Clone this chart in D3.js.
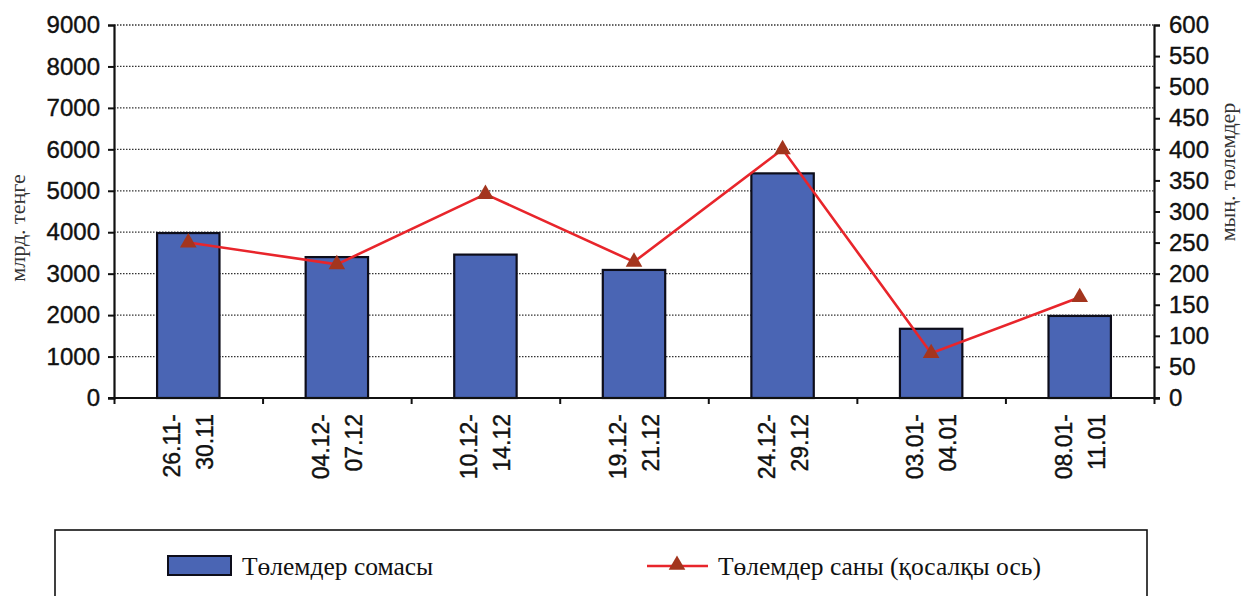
<!DOCTYPE html>
<html>
<head>
<meta charset="utf-8">
<script src="https://cdn.jsdelivr.net/npm/d3@7"></script>
<style>
  html, body { margin: 0; padding: 0; background: #fff; }
  svg { display: block; }
</style>
</head>
<body>
<svg id="chart" width="1248" height="596"></svg>
<script>
// Weekly payment periods
const periods = [["26.11-", "30.11"], ["04.12-", "07.12"], ["10.12-", "14.12"], ["19.12-", "21.12"],
                 ["24.12-", "29.12"], ["03.01-", "04.01"], ["08.01-", "11.01"]];
// Payment volume, bn tenge (left axis)
const paymentSum = [3980, 3400, 3460, 3090, 5420, 1670, 1980];
// Payment count, thousand payments (secondary axis)
const paymentCount = [250, 215, 328, 219, 400, 72, 162];
const leftTicks = [0, 1000, 2000, 3000, 4000, 5000, 6000, 7000, 8000, 9000];
const rightTicks = [0, 50, 100, 150, 200, 250, 300, 350, 400, 450, 500, 550, 600];
const leftTitle = "млрд. теңге";
const rightTitle = "мың. төлемдер";
const legendLabels = ["Төлемдер сомасы", "Төлемдер саны (қосалқы ось)"];

const svg = d3.select("#chart");
const plot = { left: 114, right: 1154, top: 25, bottom: 398 };
const sansFont = "'Liberation Sans', Arial, sans-serif";
const serifFont = "'Liberation Serif', 'Times New Roman', serif";

const x = d3.scaleBand()
  .domain(periods.map((d, i) => i))
  .range([plot.left, plot.right])
  .paddingInner(0.58).paddingOuter(0.29);
const yL = d3.scaleLinear().domain([0, 9000]).range([plot.bottom, plot.top]);
const yR = d3.scaleLinear().domain([0, 600]).range([plot.bottom, plot.top]);

// Dotted gridlines
svg.append("g").selectAll("line")
  .data(leftTicks.filter(d => d > 0))
  .join("line")
  .attr("x1", plot.left).attr("x2", plot.right)
  .attr("y1", d => yL(d)).attr("y2", d => yL(d))
  .attr("stroke", "#333").attr("stroke-width", 1.3)
  .attr("stroke-dasharray", "1.5,1.5");

// Bars
svg.append("g").selectAll("rect")
  .data(paymentSum)
  .join("rect")
  .attr("x", (d, i) => x(i))
  .attr("y", d => yL(d))
  .attr("width", x.bandwidth())
  .attr("height", d => yL(0) - yL(d))
  .attr("fill", "#4A65B4")
  .attr("stroke", "#0d0d1a").attr("stroke-width", 2.2);

// Left axis
const leftAxis = svg.append("g")
  .attr("transform", `translate(${plot.left},0)`)
  .call(d3.axisLeft(yL).tickValues(leftTicks).tickSize(6).tickPadding(8).tickFormat(d3.format("d")));
// Right axis
const rightAxis = svg.append("g")
  .attr("transform", `translate(${plot.right},0)`)
  .call(d3.axisRight(yR).tickValues(rightTicks).tickSize(6).tickPadding(9).tickFormat(d3.format("d")));
// Bottom axis with ticks on category boundaries
const xEdge = d3.scaleLinear().domain([0, periods.length]).range([plot.left, plot.right]);
const bottomAxis = svg.append("g")
  .attr("transform", `translate(0,${plot.bottom})`)
  .call(d3.axisBottom(xEdge).tickValues(d3.range(periods.length + 1)).tickSize(6).tickFormat(""));

[leftAxis, rightAxis, bottomAxis].forEach(g => {
  g.select(".domain").attr("stroke", "#111").attr("stroke-width", 2.2);
  g.selectAll(".tick line").attr("stroke", "#111").attr("stroke-width", 2);
  g.selectAll(".tick text")
    .attr("font-family", sansFont).attr("font-size", 24).attr("fill", "#111")
    .attr("stroke", "#111").attr("stroke-width", 0.4);
});
bottomAxis.select(".domain").attr("d", `M${plot.left - 6},0H${plot.right + 6}`);

// Category labels, rotated, two lines each
const cat = svg.append("g");
periods.forEach((p, i) => {
  const cx = x(i) + x.bandwidth() / 2;
  const t = cat.append("text")
    .attr("transform", `translate(${cx},414) rotate(-90)`)
    .attr("text-anchor", "end")
    .attr("font-family", sansFont).attr("font-size", 23).attr("fill", "#111")
    .attr("stroke", "#111").attr("stroke-width", 0.4);
  t.append("tspan").attr("x", 0).attr("y", -8).text(p[0]);
  t.append("tspan").attr("x", 0).attr("y", 25).text(p[1]);
});

// Payment count line
const line = d3.line()
  .x((d, i) => x(i) + x.bandwidth() / 2)
  .y(d => yR(d));
svg.append("path")
  .datum(paymentCount)
  .attr("d", line)
  .attr("fill", "none")
  .attr("stroke", "#E8252B").attr("stroke-width", 2.6);

const tri = d3.symbol().type(d3.symbolTriangle).size(120);
svg.append("g").selectAll("path")
  .data(paymentCount)
  .join("path")
  .attr("transform", (d, i) => `translate(${x(i) + x.bandwidth() / 2},${yR(d)})`)
  .attr("d", tri)
  .attr("fill", "#A3351E");

// Axis titles
svg.append("text")
  .attr("transform", "translate(25,228) rotate(-90)")
  .attr("text-anchor", "middle")
  .attr("font-family", serifFont).attr("font-size", 22).attr("fill", "#333")
  .text(leftTitle);
svg.append("text")
  .attr("transform", "translate(1235,172) rotate(-90)")
  .attr("text-anchor", "middle")
  .attr("font-family", serifFont).attr("font-size", 22).attr("fill", "#333")
  .text(rightTitle);

// Legend
const legend = svg.append("g");
legend.append("rect")
  .attr("x", 55).attr("y", 530).attr("width", 1092).attr("height", 90)
  .attr("fill", "none").attr("stroke", "#111").attr("stroke-width", 1.6);
legend.append("rect")
  .attr("x", 168).attr("y", 556).attr("width", 63).attr("height", 19)
  .attr("fill", "#4A65B4").attr("stroke", "#0d0d1a").attr("stroke-width", 2);
legend.append("text")
  .attr("x", 242).attr("y", 575)
  .attr("font-family", serifFont).attr("font-size", 25.5).attr("fill", "#111")
  .text(legendLabels[0]);
legend.append("line")
  .attr("x1", 647).attr("x2", 708).attr("y1", 566).attr("y2", 566)
  .attr("stroke", "#E8252B").attr("stroke-width", 2.6);
legend.append("path")
  .attr("transform", "translate(677,565)")
  .attr("d", tri)
  .attr("fill", "#A3351E");
legend.append("text")
  .attr("x", 718).attr("y", 575)
  .attr("font-family", serifFont).attr("font-size", 25.5).attr("fill", "#111")
  .text(legendLabels[1]);
</script>
</body>
</html>
